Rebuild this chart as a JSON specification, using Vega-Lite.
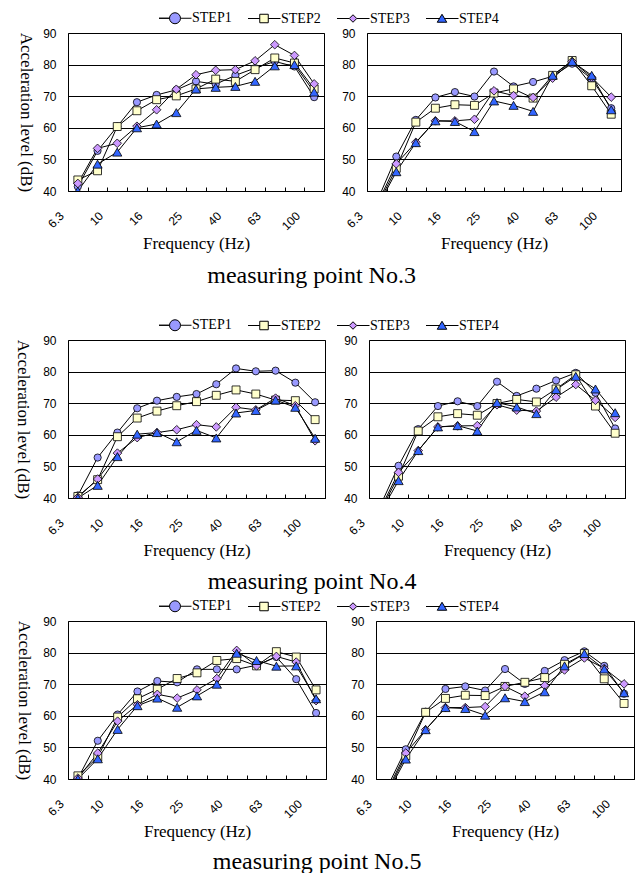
{
  "$schema": "https://vega.github.io/schema/vega-lite/v6.json",
  "padding": {"left": 14, "top": 10, "right": 5, "bottom": 2},
  "data": {"values": [
    {"p":"3L","f":6.3,"STEP1":41.4,"STEP2":43.5,"STEP3":42.4,"STEP4":40.0},
    {"p":"3L","f":8,"STEP1":52.7,"STEP2":46.4,"STEP3":53.5,"STEP4":48.5},
    {"p":"3L","f":10,"STEP1":60.4,"STEP2":60.4,"STEP3":55.1,"STEP4":52.3},
    {"p":"3L","f":12.5,"STEP1":68.1,"STEP2":65.4,"STEP3":60.5,"STEP4":60.0},
    {"p":"3L","f":16,"STEP1":70.4,"STEP2":68.9,"STEP3":65.7,"STEP4":61.2},
    {"p":"3L","f":20,"STEP1":72.0,"STEP2":70.1,"STEP3":72.2,"STEP4":64.8},
    {"p":"3L","f":25,"STEP1":74.7,"STEP2":72.3,"STEP3":76.8,"STEP4":72.3},
    {"p":"3L","f":31.5,"STEP1":73.8,"STEP2":75.4,"STEP3":78.2,"STEP4":72.8},
    {"p":"3L","f":40,"STEP1":76.6,"STEP2":74.7,"STEP3":78.4,"STEP4":73.1},
    {"p":"3L","f":50,"STEP1":78.9,"STEP2":78.4,"STEP3":81.2,"STEP4":74.7},
    {"p":"3L","f":63,"STEP1":81.0,"STEP2":82.1,"STEP3":86.3,"STEP4":79.6},
    {"p":"3L","f":80,"STEP1":79.4,"STEP2":80.5,"STEP3":82.9,"STEP4":80.0},
    {"p":"3L","f":100,"STEP1":69.7,"STEP2":72.3,"STEP3":73.9,"STEP4":71.3},
    {"p":"3R","f":6.3,"STEP1":36.5,"STEP2":35,"STEP3":35.5,"STEP4":34.5},
    {"p":"3R","f":8,"STEP1":50.9,"STEP2":47.2,"STEP3":48.6,"STEP4":46.1},
    {"p":"3R","f":10,"STEP1":62.5,"STEP2":61.8,"STEP3":55.4,"STEP4":55.3},
    {"p":"3R","f":12.5,"STEP1":69.6,"STEP2":66.2,"STEP3":62.2,"STEP4":62.2},
    {"p":"3R","f":16,"STEP1":71.3,"STEP2":67.3,"STEP3":62.2,"STEP4":62.0},
    {"p":"3R","f":20,"STEP1":69.9,"STEP2":67.1,"STEP3":62.7,"STEP4":58.8},
    {"p":"3R","f":25,"STEP1":77.8,"STEP2":71.0,"STEP3":71.7,"STEP4":68.5},
    {"p":"3R","f":31.5,"STEP1":73.1,"STEP2":72.3,"STEP3":70.2,"STEP4":67.1},
    {"p":"3R","f":40,"STEP1":74.5,"STEP2":69.4,"STEP3":69.6,"STEP4":65.2},
    {"p":"3R","f":50,"STEP1":76.3,"STEP2":76.6,"STEP3":75.7,"STEP4":76.6},
    {"p":"3R","f":63,"STEP1":80.3,"STEP2":81.3,"STEP3":81.0,"STEP4":81.0},
    {"p":"3R","f":80,"STEP1":75.5,"STEP2":73.3,"STEP3":76.0,"STEP4":76.6},
    {"p":"3R","f":100,"STEP1":66.2,"STEP2":64.3,"STEP3":69.7,"STEP4":65.7},
    {"p":"4L","f":6.3,"STEP1":40.8,"STEP2":40.5,"STEP3":40.2,"STEP4":40.0},
    {"p":"4L","f":8,"STEP1":52.8,"STEP2":45.8,"STEP3":46.0,"STEP4":44.0},
    {"p":"4L","f":10,"STEP1":60.7,"STEP2":59.4,"STEP3":54.2,"STEP4":53.1},
    {"p":"4L","f":12.5,"STEP1":68.4,"STEP2":65.3,"STEP3":59.1,"STEP4":60.2},
    {"p":"4L","f":16,"STEP1":70.8,"STEP2":67.5,"STEP3":60.7,"STEP4":60.7},
    {"p":"4L","f":20,"STEP1":72.0,"STEP2":69.2,"STEP3":61.6,"STEP4":57.8},
    {"p":"4L","f":25,"STEP1":72.9,"STEP2":70.5,"STEP3":63.2,"STEP4":61.4},
    {"p":"4L","f":31.5,"STEP1":76.0,"STEP2":72.5,"STEP3":62.5,"STEP4":59.0},
    {"p":"4L","f":40,"STEP1":81.0,"STEP2":74.2,"STEP3":68.7,"STEP4":66.9},
    {"p":"4L","f":50,"STEP1":80.1,"STEP2":72.9,"STEP3":67.9,"STEP4":67.7},
    {"p":"4L","f":63,"STEP1":80.3,"STEP2":71.0,"STEP3":71.6,"STEP4":71.0},
    {"p":"4L","f":80,"STEP1":76.5,"STEP2":70.8,"STEP3":69.2,"STEP4":68.7},
    {"p":"4L","f":100,"STEP1":70.3,"STEP2":64.8,"STEP3":58.1,"STEP4":58.9},
    {"p":"4R","f":6.3,"STEP1":36.5,"STEP2":35,"STEP3":35.5,"STEP4":34.5},
    {"p":"4R","f":8,"STEP1":50.2,"STEP2":46.9,"STEP3":48.1,"STEP4":45.5},
    {"p":"4R","f":10,"STEP1":61.8,"STEP2":61.2,"STEP3":55.0,"STEP4":55.0},
    {"p":"4R","f":12.5,"STEP1":69.1,"STEP2":65.7,"STEP3":62.5,"STEP4":62.5},
    {"p":"4R","f":16,"STEP1":70.6,"STEP2":66.7,"STEP3":62.8,"STEP4":62.9},
    {"p":"4R","f":20,"STEP1":69.1,"STEP2":66.2,"STEP3":62.9,"STEP4":61.2},
    {"p":"4R","f":25,"STEP1":76.8,"STEP2":69.9,"STEP3":69.5,"STEP4":70.2},
    {"p":"4R","f":31.5,"STEP1":72.3,"STEP2":71.2,"STEP3":67.8,"STEP4":68.8},
    {"p":"4R","f":40,"STEP1":74.6,"STEP2":70.4,"STEP3":67.5,"STEP4":66.7},
    {"p":"4R","f":50,"STEP1":77.2,"STEP2":74.5,"STEP3":71.9,"STEP4":74.3},
    {"p":"4R","f":63,"STEP1":79.6,"STEP2":79.0,"STEP3":75.9,"STEP4":78.5},
    {"p":"4R","f":80,"STEP1":73.3,"STEP2":69.1,"STEP3":70.9,"STEP4":74.5},
    {"p":"4R","f":100,"STEP1":62.0,"STEP2":60.5,"STEP3":65.5,"STEP4":67.0},
    {"p":"5L","f":6.3,"STEP1":40.2,"STEP2":41.0,"STEP3":40.3,"STEP4":40.0},
    {"p":"5L","f":8,"STEP1":52.1,"STEP2":46.9,"STEP3":48.2,"STEP4":46.4},
    {"p":"5L","f":10,"STEP1":60.4,"STEP2":59.6,"STEP3":58.3,"STEP4":55.7},
    {"p":"5L","f":12.5,"STEP1":67.7,"STEP2":65.4,"STEP3":63.5,"STEP4":63.2},
    {"p":"5L","f":16,"STEP1":71.0,"STEP2":68.4,"STEP3":66.8,"STEP4":65.6},
    {"p":"5L","f":20,"STEP1":70.6,"STEP2":71.8,"STEP3":65.6,"STEP4":62.7},
    {"p":"5L","f":25,"STEP1":74.7,"STEP2":73.6,"STEP3":68.2,"STEP4":66.3},
    {"p":"5L","f":31.5,"STEP1":74.7,"STEP2":77.5,"STEP3":71.8,"STEP4":70.0},
    {"p":"5L","f":40,"STEP1":74.7,"STEP2":78.1,"STEP3":80.7,"STEP4":79.8},
    {"p":"5L","f":50,"STEP1":76.0,"STEP2":75.8,"STEP3":75.8,"STEP4":77.5},
    {"p":"5L","f":63,"STEP1":78.6,"STEP2":80.3,"STEP3":78.8,"STEP4":75.7},
    {"p":"5L","f":80,"STEP1":71.6,"STEP2":78.6,"STEP3":77.0,"STEP4":75.8},
    {"p":"5L","f":100,"STEP1":60.9,"STEP2":68.2,"STEP3":64.8,"STEP4":65.4},
    {"p":"5R","f":6.3,"STEP1":36.5,"STEP2":35,"STEP3":35.5,"STEP4":34.5},
    {"p":"5R","f":8,"STEP1":49.4,"STEP2":47.3,"STEP3":48.2,"STEP4":46.3},
    {"p":"5R","f":10,"STEP1":61.3,"STEP2":61.1,"STEP3":55.6,"STEP4":55.6},
    {"p":"5R","f":12.5,"STEP1":68.5,"STEP2":65.5,"STEP3":62.6,"STEP4":62.6},
    {"p":"5R","f":16,"STEP1":69.3,"STEP2":66.5,"STEP3":62.6,"STEP4":62.3},
    {"p":"5R","f":20,"STEP1":68.0,"STEP2":66.4,"STEP3":62.9,"STEP4":60.2},
    {"p":"5R","f":25,"STEP1":74.8,"STEP2":69.3,"STEP3":69.3,"STEP4":65.7},
    {"p":"5R","f":31.5,"STEP1":70.1,"STEP2":70.6,"STEP3":66.2,"STEP4":64.5},
    {"p":"5R","f":40,"STEP1":74.2,"STEP2":72.1,"STEP3":69.6,"STEP4":67.6},
    {"p":"5R","f":50,"STEP1":77.6,"STEP2":76.3,"STEP3":74.5,"STEP4":75.8},
    {"p":"5R","f":63,"STEP1":80.4,"STEP2":79.7,"STEP3":78.3,"STEP4":79.7},
    {"p":"5R","f":80,"STEP1":75.8,"STEP2":71.7,"STEP3":75.0,"STEP4":74.8},
    {"p":"5R","f":100,"STEP1":67.0,"STEP2":63.9,"STEP3":70.1,"STEP4":67.3}
  ]},
  "spacing": 28,
  "resolve": {"scale": {"x": "independent", "y": "independent", "shape": "independent", "fill": "independent", "size": "independent"}},
  "vconcat": [
    {
      "title": {"text": "measuring point No.3", "orient": "bottom", "offset": 12, "dx": -8},
      "spacing": 43,
      "bounds": "flush",
      "resolve": {"scale": {"x": "independent", "y": "independent", "shape": "independent", "fill": "independent", "size": "independent"}},
      "hconcat": [
        {
          "width": 256, "height": 158,
          "transform": [{"filter": "datum.p == '3L'"}, {"fold": ["STEP1","STEP2","STEP3","STEP4"], "as": ["step","v"]}],
          "encoding": {
            "x": {"field": "f", "type": "ordinal", "scale": {"type": "band", "domain": [6.3,8,10,12.5,16,20,25,31.5,40,50,63,80,100], "paddingInner": 0, "paddingOuter": 0}, "axis": {"title": "Frequency (Hz)", "labelExpr": "indexof([6.3,10,16,25,40,63,100], datum.value) >= 0 ? datum.label : ''"}},
            "y": {"field": "v", "type": "quantitative", "scale": {"domain": [40, 90], "nice": false, "zero": false}, "axis": {"title": "Acceleration level (dB)", "values": [40,50,60,70,80,90]}}
          },
          "layer": [
            {"mark": {"type": "line", "color": "black", "strokeWidth": 1, "clip": true}, "encoding": {"detail": {"field": "step"}, "order": {"field": "f", "type": "quantitative"}}},
            {"mark": {"type": "point", "filled": true, "stroke": "black", "strokeWidth": 0.8, "opacity": 1, "clip": true},
             "encoding": {
               "shape": {"field": "step", "type": "nominal", "scale": {"domain": ["STEP4","STEP3","STEP2","STEP1"], "range": ["triangle-up","diamond","square","circle"]}, "legend": null},
               "fill": {"field": "step", "type": "nominal", "scale": {"domain": ["STEP1","STEP2","STEP3","STEP4"], "range": ["#9999ff","#ffffcc","#cc99ff","#3366ff"]}, "legend": {"title": null, "orient": "none", "legendX": 100, "legendY": -22, "direction": "horizontal", "labelFont": "Liberation Serif", "labelFontSize": 14, "labelColor": "black", "symbolSize": 100, "labelOffset": 10, "columnPadding": 14, "padding": 0, "encoding": {"symbols": {"stroke": {"value": "black"}, "strokeWidth": {"value": 1}, "opacity": {"value": 1}, "shape": {"value": {"expr": "datum.value == 'STEP1' ? 'M-3.2,0H-1.1A1.1,1.1,0,1,1,1.1,0A1.1,1.1,0,1,1,-1.1,0ZM1.1,0H3.3' : datum.value == 'STEP2' ? 'M-3.2,0H-0.85M-0.85,-0.85H0.85V0.85H-0.85ZM0.85,0H3.3' : datum.value == 'STEP3' ? 'M-3.2,0H-0.75M-0.75,0L0,-0.75L0.75,0L0,0.75ZM0.75,0H3.3' : 'M-3.2,0H-0.5M0,-0.85L0.95,0.75H-0.95ZM0.5,0H3.3'"}}}}}},
               "size": {"field": "step", "type": "nominal", "scale": {"domain": ["STEP4","STEP3","STEP2","STEP1"], "range": [85, 52, 72, 121]}, "legend": null}
             }}
          ]
        },
        {
          "width": 254, "height": 158,
          "transform": [{"filter": "datum.p == '3R'"}, {"fold": ["STEP1","STEP2","STEP3","STEP4"], "as": ["step","v"]}],
          "encoding": {
            "x": {"field": "f", "type": "ordinal", "scale": {"type": "band", "domain": [6.3,8,10,12.5,16,20,25,31.5,40,50,63,80,100], "paddingInner": 0, "paddingOuter": 0}, "axis": {"title": "Frequency (Hz)", "labelExpr": "indexof([6.3,10,16,25,40,63,100], datum.value) >= 0 ? datum.label : ''"}},
            "y": {"field": "v", "type": "quantitative", "scale": {"domain": [40, 90], "nice": false, "zero": false}, "axis": {"title": null, "values": [40,50,60,70,80,90]}}
          },
          "layer": [
            {"mark": {"type": "line", "color": "black", "strokeWidth": 1, "clip": true}, "encoding": {"detail": {"field": "step"}, "order": {"field": "f", "type": "quantitative"}}},
            {"mark": {"type": "point", "filled": true, "stroke": "black", "strokeWidth": 0.8, "opacity": 1, "clip": true},
             "encoding": {
               "shape": {"field": "step", "type": "nominal", "scale": {"domain": ["STEP4","STEP3","STEP2","STEP1"], "range": ["triangle-up","diamond","square","circle"]}, "legend": null},
               "fill": {"field": "step", "type": "nominal", "scale": {"domain": ["STEP1","STEP2","STEP3","STEP4"], "range": ["#9999ff","#ffffcc","#cc99ff","#3366ff"]}, "legend": null},
               "size": {"field": "step", "type": "nominal", "scale": {"domain": ["STEP4","STEP3","STEP2","STEP1"], "range": [85, 52, 72, 121]}, "legend": null}
             }}
          ]
        }
      ]
    },
    {
      "spacing": 3,
      "resolve": {"scale": {"x": "independent", "y": "independent", "shape": "independent", "fill": "independent", "size": "independent"}},
      "vconcat": [
        {
          "title": {"text": "measuring point No.4", "orient": "bottom", "offset": 11, "dx": -8},
          "spacing": 44,
          "bounds": "flush",
          "resolve": {"scale": {"x": "independent", "y": "independent", "shape": "independent", "fill": "independent", "size": "independent"}},
          "hconcat": [
            {
              "width": 257, "height": 158,
              "transform": [{"filter": "datum.p == '4L'"}, {"fold": ["STEP1","STEP2","STEP3","STEP4"], "as": ["step","v"]}],
              "encoding": {
                "x": {"field": "f", "type": "ordinal", "scale": {"type": "band", "domain": [6.3,8,10,12.5,16,20,25,31.5,40,50,63,80,100], "paddingInner": 0, "paddingOuter": 0}, "axis": {"title": "Frequency (Hz)", "labelExpr": "indexof([6.3,10,16,25,40,63,100], datum.value) >= 0 ? datum.label : ''"}},
                "y": {"field": "v", "type": "quantitative", "scale": {"domain": [40, 90], "nice": false, "zero": false}, "axis": {"title": "Acceleration level (dB)", "values": [40,50,60,70,80,90], "titlePadding": 12}}
              },
              "layer": [
                {"mark": {"type": "line", "color": "black", "strokeWidth": 1, "clip": true}, "encoding": {"detail": {"field": "step"}, "order": {"field": "f", "type": "quantitative"}}},
                {"mark": {"type": "point", "filled": true, "stroke": "black", "strokeWidth": 0.8, "opacity": 1, "clip": true},
                 "encoding": {
                   "shape": {"field": "step", "type": "nominal", "scale": {"domain": ["STEP4","STEP3","STEP2","STEP1"], "range": ["triangle-up","diamond","square","circle"]}, "legend": null},
                   "fill": {"field": "step", "type": "nominal", "scale": {"domain": ["STEP1","STEP2","STEP3","STEP4"], "range": ["#9999ff","#ffffcc","#cc99ff","#3366ff"]}, "legend": {"title": null, "orient": "none", "legendX": 100, "legendY": -22, "direction": "horizontal", "labelFont": "Liberation Serif", "labelFontSize": 14, "labelColor": "black", "symbolSize": 100, "labelOffset": 10, "columnPadding": 14, "padding": 0, "encoding": {"symbols": {"stroke": {"value": "black"}, "strokeWidth": {"value": 1}, "opacity": {"value": 1}, "shape": {"value": {"expr": "datum.value == 'STEP1' ? 'M-3.2,0H-1.1A1.1,1.1,0,1,1,1.1,0A1.1,1.1,0,1,1,-1.1,0ZM1.1,0H3.3' : datum.value == 'STEP2' ? 'M-3.2,0H-0.85M-0.85,-0.85H0.85V0.85H-0.85ZM0.85,0H3.3' : datum.value == 'STEP3' ? 'M-3.2,0H-0.75M-0.75,0L0,-0.75L0.75,0L0,0.75ZM0.75,0H3.3' : 'M-3.2,0H-0.5M0,-0.85L0.95,0.75H-0.95ZM0.5,0H3.3'"}}}}}},
                   "size": {"field": "step", "type": "nominal", "scale": {"domain": ["STEP4","STEP3","STEP2","STEP1"], "range": [85, 52, 72, 121]}, "legend": null}
                 }}
              ]
            },
            {
              "width": 256, "height": 158,
              "transform": [{"filter": "datum.p == '4R'"}, {"fold": ["STEP1","STEP2","STEP3","STEP4"], "as": ["step","v"]}],
              "encoding": {
                "x": {"field": "f", "type": "ordinal", "scale": {"type": "band", "domain": [6.3,8,10,12.5,16,20,25,31.5,40,50,63,80,100], "paddingInner": 0, "paddingOuter": 0}, "axis": {"title": "Frequency (Hz)", "labelExpr": "indexof([6.3,10,16,25,40,63,100], datum.value) >= 0 ? datum.label : ''"}},
                "y": {"field": "v", "type": "quantitative", "scale": {"domain": [40, 90], "nice": false, "zero": false}, "axis": {"title": null, "values": [40,50,60,70,80,90]}}
              },
              "layer": [
                {"mark": {"type": "line", "color": "black", "strokeWidth": 1, "clip": true}, "encoding": {"detail": {"field": "step"}, "order": {"field": "f", "type": "quantitative"}}},
                {"mark": {"type": "point", "filled": true, "stroke": "black", "strokeWidth": 0.8, "opacity": 1, "clip": true},
                 "encoding": {
                   "shape": {"field": "step", "type": "nominal", "scale": {"domain": ["STEP4","STEP3","STEP2","STEP1"], "range": ["triangle-up","diamond","square","circle"]}, "legend": null},
                   "fill": {"field": "step", "type": "nominal", "scale": {"domain": ["STEP1","STEP2","STEP3","STEP4"], "range": ["#9999ff","#ffffcc","#cc99ff","#3366ff"]}, "legend": null},
                   "size": {"field": "step", "type": "nominal", "scale": {"domain": ["STEP4","STEP3","STEP2","STEP1"], "range": [85, 52, 72, 121]}, "legend": null}
                 }}
              ]
            }
          ]
        },
        {
          "title": {"text": "measuring point No.5", "orient": "bottom", "offset": 10, "dx": -8},
          "spacing": 50,
          "bounds": "flush",
          "resolve": {"scale": {"x": "independent", "y": "independent", "shape": "independent", "fill": "independent", "size": "independent"}},
          "hconcat": [
            {
              "width": 258, "height": 158,
              "transform": [{"filter": "datum.p == '5L'"}, {"fold": ["STEP1","STEP2","STEP3","STEP4"], "as": ["step","v"]}],
              "encoding": {
                "x": {"field": "f", "type": "ordinal", "scale": {"type": "band", "domain": [6.3,8,10,12.5,16,20,25,31.5,40,50,63,80,100], "paddingInner": 0, "paddingOuter": 0}, "axis": {"title": "Frequency (Hz)", "labelExpr": "indexof([6.3,10,16,25,40,63,100], datum.value) >= 0 ? datum.label : ''"}},
                "y": {"field": "v", "type": "quantitative", "scale": {"domain": [40, 90], "nice": false, "zero": false}, "axis": {"title": "Acceleration level (dB)", "values": [40,50,60,70,80,90], "titlePadding": 11}}
              },
              "layer": [
                {"mark": {"type": "line", "color": "black", "strokeWidth": 1, "clip": true}, "encoding": {"detail": {"field": "step"}, "order": {"field": "f", "type": "quantitative"}}},
                {"mark": {"type": "point", "filled": true, "stroke": "black", "strokeWidth": 0.8, "opacity": 1, "clip": true},
                 "encoding": {
                   "shape": {"field": "step", "type": "nominal", "scale": {"domain": ["STEP4","STEP3","STEP2","STEP1"], "range": ["triangle-up","diamond","square","circle"]}, "legend": null},
                   "fill": {"field": "step", "type": "nominal", "scale": {"domain": ["STEP1","STEP2","STEP3","STEP4"], "range": ["#9999ff","#ffffcc","#cc99ff","#3366ff"]}, "legend": {"title": null, "orient": "none", "legendX": 100, "legendY": -22, "direction": "horizontal", "labelFont": "Liberation Serif", "labelFontSize": 14, "labelColor": "black", "symbolSize": 100, "labelOffset": 10, "columnPadding": 14, "padding": 0, "encoding": {"symbols": {"stroke": {"value": "black"}, "strokeWidth": {"value": 1}, "opacity": {"value": 1}, "shape": {"value": {"expr": "datum.value == 'STEP1' ? 'M-3.2,0H-1.1A1.1,1.1,0,1,1,1.1,0A1.1,1.1,0,1,1,-1.1,0ZM1.1,0H3.3' : datum.value == 'STEP2' ? 'M-3.2,0H-0.85M-0.85,-0.85H0.85V0.85H-0.85ZM0.85,0H3.3' : datum.value == 'STEP3' ? 'M-3.2,0H-0.75M-0.75,0L0,-0.75L0.75,0L0,0.75ZM0.75,0H3.3' : 'M-3.2,0H-0.5M0,-0.85L0.95,0.75H-0.95ZM0.5,0H3.3'"}}}}}},
                   "size": {"field": "step", "type": "nominal", "scale": {"domain": ["STEP4","STEP3","STEP2","STEP1"], "range": [85, 52, 72, 121]}, "legend": null}
                 }}
              ]
            },
            {
              "width": 258, "height": 158,
              "transform": [{"filter": "datum.p == '5R'"}, {"fold": ["STEP1","STEP2","STEP3","STEP4"], "as": ["step","v"]}],
              "encoding": {
                "x": {"field": "f", "type": "ordinal", "scale": {"type": "band", "domain": [6.3,8,10,12.5,16,20,25,31.5,40,50,63,80,100], "paddingInner": 0, "paddingOuter": 0}, "axis": {"title": "Frequency (Hz)", "labelExpr": "indexof([6.3,10,16,25,40,63,100], datum.value) >= 0 ? datum.label : ''"}},
                "y": {"field": "v", "type": "quantitative", "scale": {"domain": [40, 90], "nice": false, "zero": false}, "axis": {"title": null, "values": [40,50,60,70,80,90]}}
              },
              "layer": [
                {"mark": {"type": "line", "color": "black", "strokeWidth": 1, "clip": true}, "encoding": {"detail": {"field": "step"}, "order": {"field": "f", "type": "quantitative"}}},
                {"mark": {"type": "point", "filled": true, "stroke": "black", "strokeWidth": 0.8, "opacity": 1, "clip": true},
                 "encoding": {
                   "shape": {"field": "step", "type": "nominal", "scale": {"domain": ["STEP4","STEP3","STEP2","STEP1"], "range": ["triangle-up","diamond","square","circle"]}, "legend": null},
                   "fill": {"field": "step", "type": "nominal", "scale": {"domain": ["STEP1","STEP2","STEP3","STEP4"], "range": ["#9999ff","#ffffcc","#cc99ff","#3366ff"]}, "legend": null},
                   "size": {"field": "step", "type": "nominal", "scale": {"domain": ["STEP4","STEP3","STEP2","STEP1"], "range": [85, 52, 72, 121]}, "legend": null}
                 }}
              ]
            }
          ]
        }
      ]
    }
  ],
  "config": {
    "view": {"stroke": "black", "strokeWidth": 1},
    "title": {"font": "Liberation Serif", "fontSize": 24, "fontWeight": "normal", "color": "black", "anchor": "middle"},
    "axis": {"labelColor": "black", "titleColor": "black", "titleFontWeight": "normal", "domain": false},
    "axisX": {"labelAngle": -45, "labelFont": "Liberation Sans", "labelFontSize": 12, "tickBand": "extent", "tickSize": -4, "tickColor": "black", "labelPadding": 23, "labelOffset": -20, "titleFont": "Liberation Serif", "titleFontSize": 17, "titlePadding": 4, "grid": false, "labelAlign": "right", "labelBaseline": "top"},
    "axisY": {"labelFont": "Liberation Sans", "labelFontSize": 12, "ticks": false, "labelPadding": 12, "grid": true, "gridColor": "black", "gridWidth": 1, "gridOpacity": 1, "titleFont": "Liberation Serif", "titleFontSize": 17, "titleAngle": 90, "titleBaseline": "top", "titlePadding": 9}
  }
}
